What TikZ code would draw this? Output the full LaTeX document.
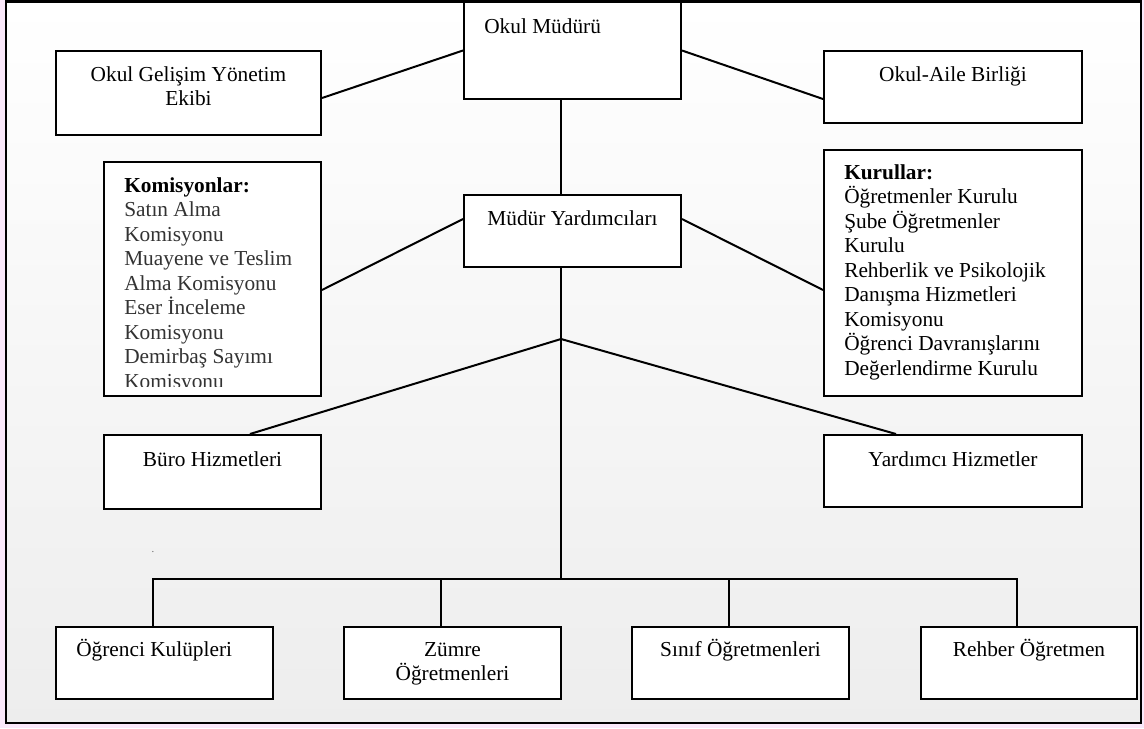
\documentclass[tikz,border=0pt]{standalone}
\usepackage{fontspec}
\setmainfont{Liberation Serif}

\definecolor{pinkbg}{RGB}{250,232,250}
\tikzset{
  box/.style 2 args={draw, fill=white, line width=1.5pt, inner sep=0pt,
    minimum width=#1*0.75pt, minimum height=#2*0.75pt},
  conn/.style={line width=1.5pt},
  lbl/.style={inner sep=0pt, font=\fontsize{16}{18.4}\selectfont},
}

\begin{document}
\begin{tikzpicture}[x=0.75pt,y=-0.75pt]
\useasboundingbox (0,0) rectangle (1144,728);
\fill[pinkbg] (0,0) rectangle (1144,728);
\shade[top color=white,bottom color=black!7] (6,1.5) rectangle (1141,723);
\draw[line width=1.9pt] (6,1.5) rectangle (1141,723);

\node[box={217}{97}] (om) at (572.5,50.5) {};
\node[box={265}{84}] (ogye) at (188.5,93) {};
\node[box={258}{72}] (oa) at (953,87) {};
\node[box={217}{234}] (kom) at (212.5,279) {};
\node[box={217}{72}] (my) at (572.5,231) {};
\node[box={258}{246}] (kur) at (953,273) {};
\node[box={217}{74}] (buro) at (212.5,472) {};
\node[box={258}{72}] (yard) at (953,471) {};
\node[box={217}{72}] (ogr) at (164.5,663) {};
\node[box={217}{72}] (zum) at (452.5,663) {};
\node[box={217}{72}] (sin) at (740.5,663) {};
\node[box={216}{72}] (reh) at (1029,663) {};

\node[lbl,anchor=base west] (omt) at ([xshift=15.75pt,yshift=-24pt]om.north west) {Okul Müdürü};
\node[lbl,anchor=base] (ogyet) at ([yshift=-23.25pt]ogye.north)
  {\parbox[t]{180pt}{\centering Okul Gelişim Yönetim\\Ekibi}};
\node[lbl,anchor=base] (oat) at ([yshift=-23.25pt]oa.north) {Okul-Aile Birliği};
\node[lbl,anchor=base] (myt) at ([yshift=-23.25pt]my.north) {Müdür Yardımcıları};
\begin{scope}
\clip ([yshift=8.25pt]kom.south west) rectangle (kom.north east);
\node[lbl,anchor=base west,text=black!80] (komt) at ([xshift=15.75pt,yshift=-23.25pt]kom.north west)
  {\parbox[t]{150pt}{\raggedright\textcolor{black}{\textbf{Komisyonlar:}}\\Satın Alma\\Komisyonu\\Muayene ve Teslim\\Alma Komisyonu\\Eser İnceleme\\Komisyonu\\Demirbaş Sayımı\\Komisyonu}};
\end{scope}
\node[lbl,anchor=base west] (kurt) at ([xshift=15.75pt,yshift=-22.5pt]kur.north west)
  {\parbox[t]{180pt}{\raggedright\textbf{Kurullar:}\\Öğretmenler Kurulu\\Şube Öğretmenler\\Kurulu\\Rehberlik ve Psikolojik\\Danışma Hizmetleri\\Komisyonu\\Öğrenci Davranışlarını\\Değerlendirme Kurulu}};
\node[lbl,anchor=base] (burot) at ([yshift=-24pt]buro.north) {Büro Hizmetleri};
\node[lbl,anchor=base] (yardt) at ([yshift=-24pt]yard.north) {Yardımcı Hizmetler};
\node[lbl,anchor=base west] (ogrt) at ([xshift=15.75pt,yshift=-22.5pt]ogr.north west) {Öğrenci Kulüpleri};
\node[lbl,anchor=base] (zumt) at ([yshift=-22.5pt]zum.north)
  {\parbox[t]{150pt}{\centering Zümre\\Öğretmenleri}};
\node[lbl,anchor=base] (sint) at ([yshift=-22.5pt]sin.north) {Sınıf Öğretmenleri};
\node[lbl,anchor=base] (reht) at ([yshift=-22.5pt]reh.north) {Rehber Öğretmen};
\node[lbl,font=\fontsize{8}{8}\selectfont,text=black!60] (dot) at (153,552) {.};

\coordinate (fan) at (561,339);
\coordinate (bus) at (561,579);
\coordinate (d1) at ([xshift=-8.6pt]ogr.north);
\coordinate (d2) at ([xshift=-8.6pt]zum.north);
\coordinate (d3) at ([xshift=-8.6pt]sin.north);
\coordinate (d4) at ([xshift=-9pt]reh.north);

\draw[conn] ([yshift=-3.75pt]ogye.east) -- (om.west);
\draw[conn] (om.east) -- ([yshift=-9pt]oa.west);
\draw[conn] ([yshift=-8.25pt]kom.east) -- ([yshift=9pt]my.west);
\draw[conn] ([yshift=9pt]my.east) -- ([yshift=-12.75pt]kur.west);
\draw[conn] (om.south -| fan) -- (my.north -| fan);
\draw[conn] (my.south -| fan) -- (bus);
\draw[conn] (fan) -- ([xshift=28.1pt]buro.north);
\draw[conn] (fan) -- ([xshift=-42.75pt]yard.north);
\draw[conn] (d1) -- (d1 |- bus) -- (d4 |- bus) -- (d4);
\draw[conn] (d2) -- (d2 |- bus);
\draw[conn] (d3) -- (d3 |- bus);
\end{tikzpicture}
\end{document}
